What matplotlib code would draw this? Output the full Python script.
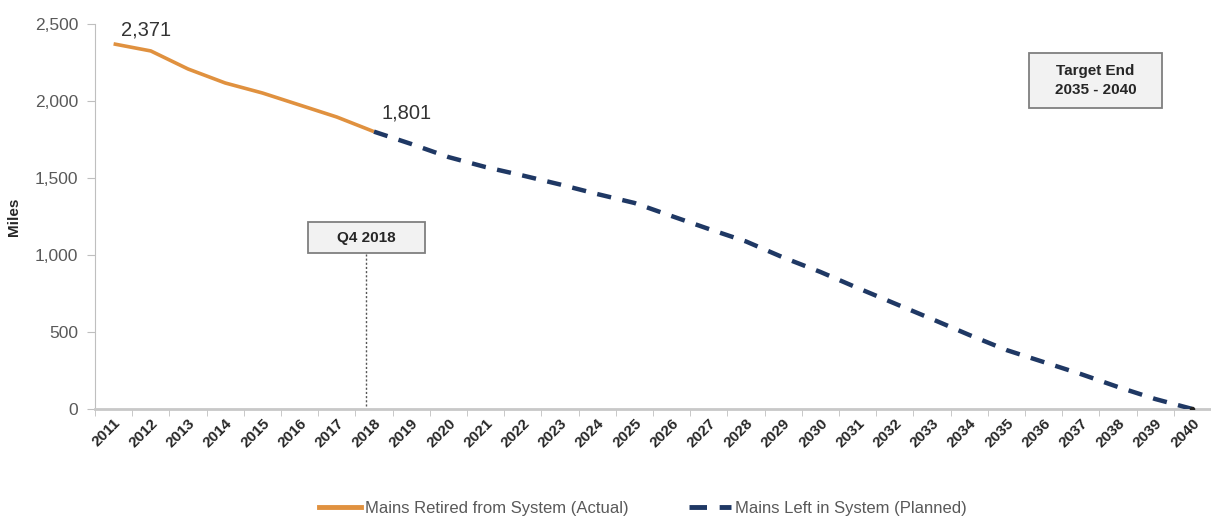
import matplotlib
matplotlib.use("Agg")
import matplotlib.pyplot as plt
from matplotlib.lines import Line2D
from matplotlib.patches import Rectangle
from matplotlib.ticker import FuncFormatter, MultipleLocator

plt.rcParams["font.family"] = ["Liberation Sans", "DejaVu Sans"]

ORANGE = "#e0913f"
NAVY = "#1f3864"
GREY = "#595959"

years = list(range(2011, 2041))
actual_years = years[:8]
actual_miles = [2371, 2325, 2208, 2117, 2052, 1974, 1896, 1801]
planned_years = years[7:]
planned_miles = [1801, 1721, 1636, 1571, 1516, 1458, 1396, 1338, 1253, 1169,
                 1088, 984, 890, 786, 685, 584, 481, 383, 305, 227, 143, 65, 0]

W, H = 1211, 516
fig = plt.figure(figsize=(W / 100, H / 100), dpi=100)
# plot area runs a little past the right edge, as in the cropped source
ax = fig.add_axes([95 / W, 107 / H, (W - 95) / W, 385 / H])

xa = [years.index(y) for y in actual_years]
xp = [years.index(y) for y in planned_years]
ax.plot(xa, actual_miles, color=ORANGE, lw=2.6, solid_capstyle="butt", zorder=3)
ax.plot(xp, planned_miles, color=NAVY, lw=3.2, dashes=(3.2, 2.6), zorder=3)
ax.plot(xp[-1], planned_miles[-1], "o", color="#222222", ms=3, zorder=4)

ax.set_xlim(-0.5, 29.5 - (1220 - W) / 37.5)
ax.set_ylim(0, 2500)

for s in ["top", "right"]:
    ax.spines[s].set_visible(False)
ax.spines["left"].set_color("#bfbfbf")
ax.spines["bottom"].set_color("#c8c8c8")
ax.spines["bottom"].set_linewidth(2)

ax.yaxis.set_major_locator(MultipleLocator(500))
ax.yaxis.set_major_formatter(FuncFormatter(lambda v, p: f"{int(v):,}"))
ax.tick_params(axis="y", length=6, color="#bfbfbf", labelsize=12.5,
               labelcolor=GREY, pad=6)

ax.set_xticks(range(len(years)))
ax.set_xticks([i - 0.5 for i in range(len(years) + 1)], minor=True)
ax.set_xticklabels([str(y) for y in years], rotation=45, ha="right",
                   va="top", rotation_mode="anchor")
ax.tick_params(axis="x", which="major", length=0, labelsize=11,
               labelcolor="#262626", pad=5)
ax.tick_params(axis="x", which="minor", length=5, color="#bfbfbf")
for lab in ax.get_xticklabels():
    lab.set_fontweight("bold")

ax.set_ylabel("Miles", fontsize=11, fontweight="bold", color="#262626",
              labelpad=10)

# value callouts
ax.text(0.2, actual_miles[0] + 30, f"{actual_miles[0]:,}", fontsize=14.5,
        color="#333333", va="bottom")
ax.text(7.2, actual_miles[-1] + 60, f"{actual_miles[-1]:,}", fontsize=14.5,
        color="#333333", va="bottom")

# Q4 2018 marker
ax.plot([6.78, 6.78], [20, 1005], color="#555555", lw=1, ls=(0, (1.5, 1.5)))
ax.add_patch(Rectangle((5.23, 1013), 3.15, 200, fc="#f2f2f2", ec="#7f7f7f",
                       lw=1.3, zorder=4))
ax.text(6.8, 1113, "Q4 2018", fontsize=11, fontweight="bold",
        color="#262626", ha="center", va="center", zorder=5)

ax.add_patch(Rectangle((24.62, 1955), 3.55, 357, fc="#f2f2f2", ec="#7f7f7f",
                       lw=1.3, zorder=4))
ax.text(26.4, 2133, "Target End\n2035 - 2040", fontsize=11,
        fontweight="bold", color="#262626", ha="center", va="center",
        linespacing=1.45, zorder=5)

handles = [Line2D([], [], color=ORANGE, lw=3.5),
           Line2D([], [], color=NAVY, lw=3.5, dashes=(3.6, 2.6))]
fig.legend(handles, ["Mains Retired from System (Actual)",
                     "Mains Left in System (Planned)"],
           loc="center", bbox_to_anchor=(643 / W, 1 - 508 / H), ncol=2,
           frameon=False, fontsize=12, labelcolor=GREY, handlelength=2.5,
           handletextpad=0.25, columnspacing=3.6)

fig.savefig("out.png", dpi=100, facecolor="white")
